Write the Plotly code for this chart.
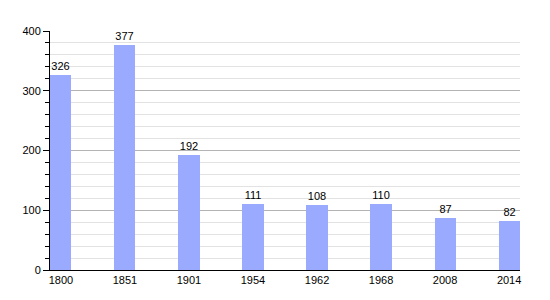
import plotly.graph_objects as go

years = ["1800", "1851", "1901", "1954", "1962", "1968", "2008", "2014"]
population = [326, 377, 192, 111, 108, 110, 87, 82]
y_ticks = [0, 100, 200, 300, 400]

fig = go.Figure(go.Bar(
    x=years, y=population, width=0.33,
    marker=dict(color="#99aaff", line=dict(width=0)),
    text=[str(v) for v in population], textposition="outside",
    textfont=dict(size=11, color="black", family="Liberation Sans, Arial, sans-serif"),
    cliponaxis=False,
))

fig.update_layout(
    width=550, height=300,
    margin=dict(l=50, r=30, t=31, b=30),
    paper_bgcolor="white", plot_bgcolor="white",
    font=dict(family="Liberation Sans, Arial, sans-serif", size=11, color="black"),
    showlegend=False,
    bargap=0,
)
fig.update_xaxes(
    type="category", range=[-0.17, 7.17],
    showline=True, linecolor="black", linewidth=1,
    ticks="", showgrid=False, tickfont=dict(size=11),
)
fig.update_yaxes(
    range=[0, 400], tickvals=y_ticks,
    showline=True, linecolor="black", linewidth=1,
    ticks="outside", ticklen=6, tickcolor="black",
    showgrid=True, gridcolor="#b4b4b4", gridwidth=1,
    zeroline=False, tickfont=dict(size=11),
    minor=dict(dtick=20, showgrid=True, gridcolor="#e2e2e2", ticks="outside", ticklen=4, tickcolor="black"),
)

fig.write_html("out.html")
